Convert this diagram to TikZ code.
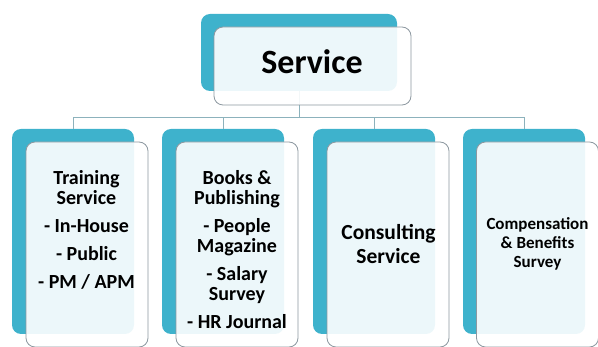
\documentclass[tikz,border=0pt]{standalone}
\usepackage{fontspec}
\setmainfont{Carlito}
\usetikzlibrary{positioning}
\definecolor{tealbox}{RGB}{62,178,204}
\definecolor{edgegrey}{RGB}{140,152,160}
\definecolor{linkgrey}{RGB}{140,178,188}
\tikzset{
  back/.style={fill=tealbox, rounded corners=9pt, inner sep=0pt},
  front/.style={draw=edgegrey, line width=0.8pt, fill=white, fill opacity=0.9,
    rounded corners=9pt, inner sep=0pt},
  kidsize/.style={minimum width=122pt, minimum height=205pt},
  link/.style={draw=linkgrey, line width=0.8pt},
  lbl/.style={align=center, inner sep=0pt, anchor=north, text=black,
    font=\bfseries\fontsize{20}{20}\selectfont}
}
\begin{document}
\begin{tikzpicture}[x=1pt,y=-1pt]
            \useasboundingbox (0,0) rectangle (598,347);
            % back plates
            \node[back, minimum width=196pt, minimum height=77pt] (top-bg) at (299,52.5) {};
            \node[back, kidsize] (train-bg) at (73,231.5) {};
            \node[back, kidsize] (books-bg) at (223,231.5) {};
            \node[back, kidsize] (consult-bg) at (374,231.5) {};
            \node[back, kidsize] (comp-bg) at (524,231.5) {};
            % tree lines
            \coordinate (bus) at (299,117);
            \draw[link] (top-bg.south) -- (bus);
            \draw[link] (bus) -| (train-bg.north);
            \draw[link] (bus) -| (books-bg.north);
            \draw[link] (bus) -| (consult-bg.north);
            \draw[link] (bus) -| (comp-bg.north);
            % front cards
            \node[front, minimum width=197pt, minimum height=78pt] (top) at (312.5,66) {};
            \node[front, kidsize] (train) at (87,244.5) {};
            \node[front, kidsize] (books) at (237,244.5) {};
            \node[front, kidsize] (consult) at (388,244.5) {};
            \node[front, kidsize] (comp) at (537.5,244.5) {};
            % texts
            \node[text=black, inner sep=0pt, font=\bfseries\fontsize{34}{34}\selectfont] (top-txt) at (312,62) {Service};
            \node[lbl] (train-txt) at (86.5,170) {Training\\Service\\[8pt]- In-House\\[8pt]- Public\\[8pt]- PM / APM};
            \node[lbl] (books-txt) at (237,170) {Books \&\\Publishing\\[8pt]- People\\Magazine\\[8pt]- Salary\\Survey\\[8pt]- HR Journal};
            \node[lbl, font=\bfseries\fontsize{21.5}{24}\selectfont] (consult-txt) at (388.5,224) {Consulting\\Service};
            \node[lbl, font=\bfseries\fontsize{17}{19}\selectfont] (comp-txt) at (537.5,217) {Compensation\\\& Benefits\\Survey};
        \end{tikzpicture}
\end{document}
